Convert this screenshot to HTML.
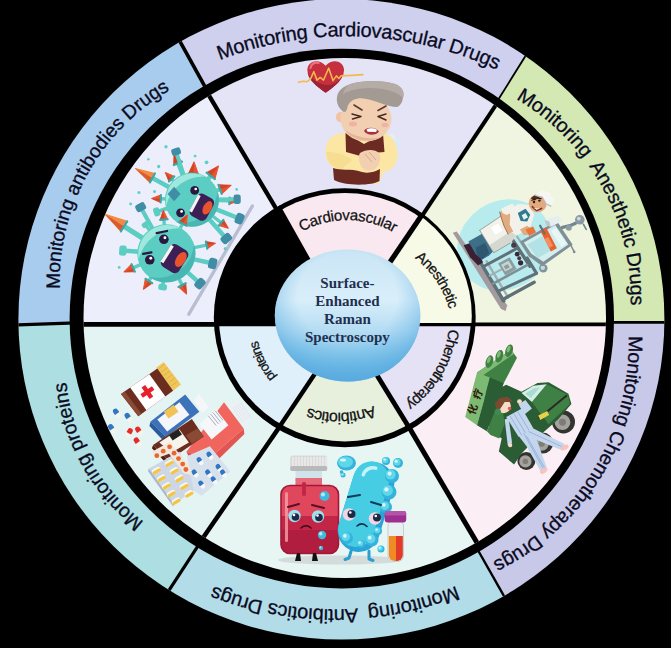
<!DOCTYPE html>
<html><head><meta charset="utf-8"><title>SERS drug monitoring</title>
<style>
html,body{margin:0;padding:0;background:#000;}
svg{display:block}
.o{font-family:"Liberation Sans",sans-serif;font-size:20px;fill:#0a0a1e;stroke:#0a0a1e;stroke-width:0.3px}
.i{font-family:"Liberation Sans",sans-serif;font-size:15px;fill:#111;stroke:#111;stroke-width:0.25px}
.c{font-family:"Liberation Serif",serif;font-weight:bold;font-size:15px;fill:#1f2f4f;text-anchor:middle}
</style></head><body>
<svg width="671" height="648" viewBox="0 0 671 648">
<defs>
<clipPath id="cOut"><ellipse cx="341.4" cy="319.25" rx="323.0" ry="320.25" /></clipPath>
<clipPath id="cMid"><ellipse cx="344.75" cy="317.95" rx="261.25" ry="260.05" /></clipPath>
<clipPath id="cIn"><ellipse cx="344.9" cy="317.2" rx="126.0" ry="124.3" /></clipPath>
<clipPath id="cMidIn"><ellipse cx="344.75" cy="317.75" rx="130.95" ry="129.55" /></clipPath>
<linearGradient id="gS" x1="0" y1="0" x2="0" y2="1">
<stop offset="0" stop-color="#c9e5f5"/><stop offset="0.38" stop-color="#d9eefa"/><stop offset="0.62" stop-color="#b4dcf3"/><stop offset="0.85" stop-color="#78c0e8"/><stop offset="1" stop-color="#55a9de"/>
</linearGradient>
<radialGradient id="gS2" cx="0.5" cy="0.36" r="0.62">
<stop offset="0" stop-color="#6ab8e6" stop-opacity="0"/><stop offset="0.55" stop-color="#6ab8e6" stop-opacity="0"/><stop offset="0.8" stop-color="#62b2e3" stop-opacity="0.4"/><stop offset="1" stop-color="#5aabdf" stop-opacity="0.8"/>
</radialGradient>
</defs>
<rect width="671" height="648" fill="#000"/>

<g clip-path="url(#cOut)">
<path d="M345.0,322.0 L82.0,322.7 L-62.0,327.4 L-250.8,250.8 L-236.2,172.9 L-211.4,97.6 L-177.0,26.2 L-133.4,-40.1 L-81.5,-100.0 L-22.2,-152.5 L142.1,-27.2 L209.8,95.3Z" fill="#a8ccee"/>
<path d="M345.0,322.0 L209.8,95.3 L142.1,-27.2 L118.6,-233.7 L198.0,-259.7 L280.3,-274.5 L363.8,-277.7 L446.9,-269.3 L528.1,-249.4 L605.7,-218.4 L567.4,-10.9 L492.6,108.7Z" fill="#ced0ee"/>
<path d="M345.0,322.0 L492.6,108.7 L567.4,-10.9 L736.9,-132.3 L789.6,-80.9 L835.6,-23.4 L874.2,39.3 L904.9,106.3 L927.1,176.5 L940.5,248.9 L744.0,322.3 L602.0,322.3Z" fill="#d4e8b4"/>
<path d="M345.0,322.0 L602.0,322.3 L744.0,322.3 L939.8,400.7 L924.5,477.6 L899.2,551.8 L864.6,622.1 L821.0,687.3 L769.3,746.2 L710.3,797.9 L542.6,664.0 L474.1,543.3Z" fill="#c8c8e8"/>
<path d="M345.0,322.0 L474.1,543.3 L542.6,664.0 L570.9,877.9 L492.3,903.6 L411.0,918.4 L328.4,921.8 L246.1,913.8 L165.6,894.6 L88.6,864.5 L127.0,655.1 L203.0,538.0Z" fill="#b2dce8"/>
<path d="M345.0,322.0 L203.0,538.0 L127.0,655.1 L-42.3,780.3 L-95.3,729.6 L-141.7,672.9 L-180.9,610.9 L-212.2,544.6 L-235.2,475.0 L-249.5,403.1 L-62.0,327.4 L82.0,322.7Z" fill="#acdee2"/>
<line x1="76.0" y1="322.9" x2="10.0" y2="325.1" stroke="#000" stroke-width="3.4"/>
<line x1="206.9" y1="90.1" x2="176.9" y2="35.8" stroke="#000" stroke-width="3.6"/>
<line x1="495.8" y1="103.6" x2="529.2" y2="50.1" stroke="#000" stroke-width="1.8"/>
<line x1="608.0" y1="322.3" x2="672.0" y2="322.3" stroke="#000" stroke-width="2.7"/>
<line x1="477.0" y1="548.5" x2="507.0" y2="601.4" stroke="#000" stroke-width="2.4"/>
<line x1="199.8" y1="543.1" x2="166.2" y2="594.7" stroke="#000" stroke-width="3.2"/>
</g>
<ellipse cx="341.8" cy="318.6" rx="272.2" ry="269.8" fill="#000"/>
<g clip-path="url(#cMid)">
<path d="M345.0,322.0 L226.0,324.4 L4.0,324.4 L-250.5,248.5 L-236.0,172.1 L-211.7,98.2 L-178.0,28.0 L-135.6,-37.2 L-85.1,-96.4 L-27.3,-148.5 L168.2,26.8 L280.6,216.3Z" fill="#eceffb"/>
<path d="M345.0,322.0 L280.6,216.3 L168.2,26.8 L113.1,-231.4 L194.3,-258.8 L278.6,-274.3 L364.2,-277.7 L449.4,-268.9 L532.5,-248.0 L611.7,-215.5 L539.8,39.4 L414.3,227.3Z" fill="#e4e4f6"/>
<path d="M345.0,322.0 L414.3,227.3 L539.8,39.4 L743.0,-127.0 L794.6,-75.3 L839.6,-17.7 L877.2,44.9 L906.9,111.6 L928.3,181.4 L941.1,253.3 L686.0,324.4 L463.0,324.4Z" fill="#eff5e1"/>
<path d="M345.0,322.0 L463.0,324.4 L686.0,324.4 L939.5,403.0 L924.3,478.4 L899.5,551.3 L865.6,620.3 L823.1,684.5 L772.8,742.7 L715.4,794.0 L516.9,610.7 L403.3,417.7Z" fill="#fbeef5"/>
<path d="M345.0,322.0 L403.3,417.7 L516.9,610.7 L576.7,875.4 L497.0,902.4 L414.2,918.0 L330.0,921.8 L246.2,913.8 L164.3,894.1 L86.0,863.2 L159.4,601.1 L285.5,418.1Z" fill="#e8f6f3"/>
<path d="M345.0,322.0 L285.5,418.1 L159.4,601.1 L-45.7,777.4 L-98.2,726.4 L-144.2,669.4 L-182.9,607.3 L-213.7,540.8 L-236.2,471.2 L-250.0,399.3 L4.0,324.4 L226.0,324.4Z" fill="#e4f4f3"/>
<line x1="220.0" y1="324.4" x2="76.0" y2="324.4" stroke="#000" stroke-width="4.8"/>
<line x1="277.6" y1="211.2" x2="204.9" y2="88.7" stroke="#000" stroke-width="4.3"/>
<line x1="417.7" y1="222.3" x2="499.8" y2="99.2" stroke="#000" stroke-width="4.0"/>
<line x1="469.0" y1="324.4" x2="614.0" y2="324.4" stroke="#000" stroke-width="3.6"/>
<line x1="406.4" y1="422.8" x2="480.4" y2="548.6" stroke="#000" stroke-width="5"/>
<line x1="282.1" y1="423.1" x2="200.3" y2="541.8" stroke="#000" stroke-width="4.5"/>
<g id="virus" transform="translate(1.5,3.8) translate(178,222) scale(1.04) translate(-178,-222)">
<line x1="248" y1="203" x2="187" y2="307" stroke="#b9bdd2" stroke-width="3.2" stroke-linecap="round"/>
<line x1="181.4" y1="174.6" x2="176.5" y2="162.0" stroke="#5ccdc2" stroke-width="3.7" stroke-linecap="round"/>
<path d="M180.5,160.4 L172.7,152.2 L172.5,163.6Z" fill="#e8532f" stroke="#e8532f" stroke-width="1" stroke-linejoin="round"/>
<path d="M176.5,162.0 L172.7,152.2 L172.5,163.6Z" fill="#bf3420" opacity="0.55"/>
<line x1="180.5" y1="160.4" x2="172.5" y2="163.6" stroke="#3aa9a6" stroke-width="2" stroke-linecap="round"/>
<line x1="182.5" y1="174.2" x2="175.5" y2="153.0" stroke="#5ccdc2" stroke-width="3.7" stroke-linecap="round"/>
<rect x="-1.0" y="-4.5" width="6.9" height="9.0" rx="2.2" fill="#3f8ea6" transform="translate(175.5,153.0) rotate(-108.2)"/>
<line x1="191.3" y1="173.0" x2="191.4" y2="172.0" stroke="#5ccdc2" stroke-width="4.0" stroke-linecap="round"/>
<path d="M196.1,172.3 L192.0,160.6 L186.7,171.7Z" fill="#e8532f" stroke="#e8532f" stroke-width="1" stroke-linejoin="round"/>
<path d="M191.4,172.0 L192.0,160.6 L186.7,171.7Z" fill="#bf3420" opacity="0.55"/>
<line x1="196.1" y1="172.3" x2="186.7" y2="171.7" stroke="#3aa9a6" stroke-width="2" stroke-linecap="round"/>
<line x1="204.8" y1="178.1" x2="208.0" y2="174.0" stroke="#5ccdc2" stroke-width="4.3" stroke-linecap="round"/>
<path d="M212.0,177.1 L215.5,164.4 L204.0,170.9Z" fill="#e8532f" stroke="#e8532f" stroke-width="1" stroke-linejoin="round"/>
<path d="M208.0,174.0 L215.5,164.4 L204.0,170.9Z" fill="#bf3420" opacity="0.55"/>
<line x1="212.0" y1="177.1" x2="204.0" y2="170.9" stroke="#3aa9a6" stroke-width="2" stroke-linecap="round"/>
<line x1="212.5" y1="188.7" x2="217.0" y2="187.0" stroke="#5ccdc2" stroke-width="4.0" stroke-linecap="round"/>
<path d="M218.6,191.4 L227.7,183.0 L215.4,182.6Z" fill="#e8532f" stroke="#e8532f" stroke-width="1" stroke-linejoin="round"/>
<path d="M217.0,187.0 L227.7,183.0 L215.4,182.6Z" fill="#bf3420" opacity="0.55"/>
<line x1="218.6" y1="191.4" x2="215.4" y2="182.6" stroke="#3aa9a6" stroke-width="2" stroke-linecap="round"/>
<line x1="214.0" y1="197.7" x2="226.0" y2="198.0" stroke="#5ccdc2" stroke-width="3.2" stroke-linecap="round"/>
<path d="M225.9,201.2 L233.9,198.2 L226.1,194.8Z" fill="#e8532f" stroke="#e8532f" stroke-width="1" stroke-linejoin="round"/>
<path d="M226.0,198.0 L233.9,198.2 L226.1,194.8Z" fill="#bf3420" opacity="0.55"/>
<line x1="225.9" y1="201.2" x2="226.1" y2="194.8" stroke="#3aa9a6" stroke-width="2" stroke-linecap="round"/>
<line x1="214.0" y1="196.7" x2="231.0" y2="196.5" stroke="#5ccdc2" stroke-width="3.7" stroke-linecap="round"/>
<rect x="-1.0" y="-4.5" width="6.9" height="9.0" rx="2.2" fill="#3f8ea6" transform="translate(231.0,196.5) rotate(-0.7)"/>
<line x1="212.3" y1="205.8" x2="233.0" y2="214.0" stroke="#5ccdc2" stroke-width="4.3" stroke-linecap="round"/>
<rect x="-1.0" y="-5.2" width="8.0" height="10.5" rx="2.6" fill="#3f8ea6" transform="translate(233.0,214.0) rotate(21.6)"/>
<line x1="205.9" y1="215.0" x2="221.0" y2="232.0" stroke="#5ccdc2" stroke-width="4.3" stroke-linecap="round"/>
<rect x="-1.0" y="-5.2" width="8.0" height="10.5" rx="2.6" fill="#3f8ea6" transform="translate(221.0,232.0) rotate(48.5)"/>
<line x1="208.9" y1="211.8" x2="218.0" y2="219.0" stroke="#5ccdc2" stroke-width="3.2" stroke-linecap="round"/>
<path d="M215.8,221.8 L224.9,224.4 L220.2,216.2Z" fill="#e8532f" stroke="#e8532f" stroke-width="1" stroke-linejoin="round"/>
<path d="M218.0,219.0 L224.9,224.4 L220.2,216.2Z" fill="#bf3420" opacity="0.55"/>
<line x1="215.8" y1="221.8" x2="220.2" y2="216.2" stroke="#3aa9a6" stroke-width="2" stroke-linecap="round"/>
<line x1="169.0" y1="185.4" x2="152.0" y2="176.0" stroke="#5ccdc2" stroke-width="4.3" stroke-linecap="round"/>
<path d="M154.4,171.6 L135.5,166.9 L149.6,180.4Z" fill="#f28a45" stroke="#f28a45" stroke-width="1" stroke-linejoin="round"/>
<path d="M152.0,176.0 L135.5,166.9 L149.6,180.4Z" fill="#bf3420" opacity="0.55"/>
<line x1="154.4" y1="171.6" x2="149.6" y2="180.4" stroke="#3aa9a6" stroke-width="2" stroke-linecap="round"/>
<line x1="173.2" y1="179.8" x2="170.5" y2="177.0" stroke="#5ccdc2" stroke-width="3.2" stroke-linecap="round"/>
<path d="M173.1,174.5 L164.4,170.7 L167.9,179.5Z" fill="#e8532f" stroke="#e8532f" stroke-width="1" stroke-linejoin="round"/>
<path d="M170.5,177.0 L164.4,170.7 L167.9,179.5Z" fill="#bf3420" opacity="0.55"/>
<line x1="173.1" y1="174.5" x2="167.9" y2="179.5" stroke="#3aa9a6" stroke-width="2" stroke-linecap="round"/>
<line x1="166.0" y1="196.2" x2="160.0" y2="196.0" stroke="#5ccdc2" stroke-width="3.2" stroke-linecap="round"/>
<path d="M160.1,192.4 L151.3,195.7 L159.9,199.6Z" fill="#e8532f" stroke="#e8532f" stroke-width="1" stroke-linejoin="round"/>
<path d="M160.0,196.0 L151.3,195.7 L159.9,199.6Z" fill="#bf3420" opacity="0.55"/>
<line x1="160.1" y1="192.4" x2="159.9" y2="199.6" stroke="#3aa9a6" stroke-width="2" stroke-linecap="round"/>
<line x1="167.3" y1="204.8" x2="158.0" y2="208.0" stroke="#5ccdc2" stroke-width="3.7" stroke-linecap="round"/>
<rect x="-1.0" y="-4.2" width="6.0" height="8.4" rx="2.1" fill="#5ccdc2" transform="translate(158.0,208.0) rotate(161.0)"/>
<circle cx="190" cy="197" r="26" fill="#5ccdc2"/>
<path d="M165.3,202.2 A26,26 0 0 1 203.0,174.6 A36.4,36.4 0 0 0 165.3,202.2Z" fill="#a6ebe0" opacity="0.9"/>
<path d="M214.7,189.2 A26,26 0 0 1 174.4,217.8 A32.5,32.5 0 0 0 214.7,189.2Z" fill="#3aa9a6" opacity="0.6"/>
<g transform="translate(199,205) rotate(-62)"><rect x="-11" y="-9" width="24" height="18" rx="5" fill="#3b1f55"/><ellipse cx="3" cy="5" rx="7" ry="4" fill="#e8532f"/><rect x="-8" y="-9" width="18" height="3" fill="#f4f4f4"/></g>
<circle cx="192.6" cy="188" r="4.2" fill="#2a1840"/><circle cx="193.6" cy="186.6" r="1.3" fill="#fff"/>
<circle cx="179" cy="209.5" r="4.2" fill="#2a1840"/><circle cx="180" cy="208.2" r="1.3" fill="#fff"/>
<path d="M172.8,184.5 L179,191.5 L172.8,198.5 L166.6,191.5Z" fill="#3f8ea6"/>
<line x1="143.5" y1="234.5" x2="124.7" y2="222.6" stroke="#5ccdc2" stroke-width="5.0" stroke-linecap="round"/>
<path d="M127.8,217.7 L106.5,211.0 L121.6,227.5Z" fill="#f28a45" stroke="#f28a45" stroke-width="1" stroke-linejoin="round"/>
<path d="M124.7,222.6 L106.5,211.0 L121.6,227.5Z" fill="#bf3420" opacity="0.55"/>
<line x1="127.8" y1="217.7" x2="121.6" y2="227.5" stroke="#3aa9a6" stroke-width="2" stroke-linecap="round"/>
<line x1="139.5" y1="246.9" x2="126.0" y2="246.0" stroke="#5ccdc2" stroke-width="4.3" stroke-linecap="round"/>
<rect x="-1.0" y="-4.9" width="7.0" height="9.8" rx="2.4" fill="#5ccdc2" transform="translate(126.0,246.0) rotate(-176.4)"/>
<line x1="141.6" y1="258.9" x2="133.5" y2="262.5" stroke="#5ccdc2" stroke-width="3.4" stroke-linecap="round"/>
<path d="M131.9,258.9 L124.7,266.4 L135.1,266.1Z" fill="#e8532f" stroke="#e8532f" stroke-width="1" stroke-linejoin="round"/>
<path d="M133.5,262.5 L124.7,266.4 L135.1,266.1Z" fill="#bf3420" opacity="0.55"/>
<line x1="131.9" y1="258.9" x2="135.1" y2="266.1" stroke="#3aa9a6" stroke-width="2" stroke-linecap="round"/>
<line x1="151.4" y1="270.4" x2="148.5" y2="275.0" stroke="#5ccdc2" stroke-width="3.4" stroke-linecap="round"/>
<path d="M145.2,272.9 L143.3,283.1 L151.8,277.1Z" fill="#e8532f" stroke="#e8532f" stroke-width="1" stroke-linejoin="round"/>
<path d="M148.5,275.0 L143.3,283.1 L151.8,277.1Z" fill="#bf3420" opacity="0.55"/>
<line x1="145.2" y1="272.9" x2="151.8" y2="277.1" stroke="#3aa9a6" stroke-width="2" stroke-linecap="round"/>
<line x1="162.5" y1="274.3" x2="162.0" y2="279.0" stroke="#5ccdc2" stroke-width="3.7" stroke-linecap="round"/>
<rect x="-1.0" y="-4.2" width="6.0" height="8.4" rx="2.1" fill="#5ccdc2" transform="translate(162.0,279.0) rotate(96.4)"/>
<line x1="176.9" y1="271.8" x2="180.5" y2="279.0" stroke="#5ccdc2" stroke-width="3.4" stroke-linecap="round"/>
<path d="M177.0,280.8 L184.8,287.6 L184.0,277.2Z" fill="#e8532f" stroke="#e8532f" stroke-width="1" stroke-linejoin="round"/>
<path d="M180.5,279.0 L184.8,287.6 L184.0,277.2Z" fill="#bf3420" opacity="0.55"/>
<line x1="177.0" y1="280.8" x2="184.0" y2="277.2" stroke="#3aa9a6" stroke-width="2" stroke-linecap="round"/>
<line x1="184.8" y1="265.9" x2="195.5" y2="275.5" stroke="#5ccdc2" stroke-width="4.3" stroke-linecap="round"/>
<rect x="-1.0" y="-5.2" width="8.0" height="10.5" rx="2.6" fill="#3f8ea6" transform="translate(195.5,275.5) rotate(41.9)"/>
<line x1="190.8" y1="254.0" x2="207.0" y2="257.5" stroke="#5ccdc2" stroke-width="4.3" stroke-linecap="round"/>
<rect x="-1.0" y="-5.2" width="8.0" height="10.5" rx="2.6" fill="#3f8ea6" transform="translate(207.0,257.5) rotate(12.2)"/>
<line x1="190.9" y1="243.2" x2="204.0" y2="240.5" stroke="#5ccdc2" stroke-width="3.2" stroke-linecap="round"/>
<path d="M204.7,244.0 L212.6,238.7 L203.3,237.0Z" fill="#e8532f" stroke="#e8532f" stroke-width="1" stroke-linejoin="round"/>
<path d="M204.0,240.5 L212.6,238.7 L203.3,237.0Z" fill="#bf3420" opacity="0.55"/>
<line x1="204.7" y1="244.0" x2="203.3" y2="237.0" stroke="#3aa9a6" stroke-width="2" stroke-linecap="round"/>
<line x1="163.5" y1="222.6" x2="163.0" y2="216.0" stroke="#5ccdc2" stroke-width="3.2" stroke-linecap="round"/>
<path d="M166.6,215.7 L162.4,207.3 L159.4,216.3Z" fill="#e8532f" stroke="#e8532f" stroke-width="1" stroke-linejoin="round"/>
<path d="M163.0,216.0 L162.4,207.3 L159.4,216.3Z" fill="#bf3420" opacity="0.55"/>
<line x1="166.6" y1="215.7" x2="159.4" y2="216.3" stroke="#3aa9a6" stroke-width="2" stroke-linecap="round"/>
<line x1="177.9" y1="225.7" x2="181.0" y2="220.0" stroke="#5ccdc2" stroke-width="3.4" stroke-linecap="round"/>
<path d="M184.5,221.9 L185.6,211.6 L177.5,218.1Z" fill="#e8532f" stroke="#e8532f" stroke-width="1" stroke-linejoin="round"/>
<path d="M181.0,220.0 L185.6,211.6 L177.5,218.1Z" fill="#bf3420" opacity="0.55"/>
<line x1="184.5" y1="221.9" x2="177.5" y2="218.1" stroke="#3aa9a6" stroke-width="2" stroke-linecap="round"/>
<line x1="152.7" y1="225.8" x2="142.0" y2="206.5" stroke="#5ccdc2" stroke-width="4.0" stroke-linecap="round"/>
<rect x="-1.0" y="-4.9" width="7.5" height="9.8" rx="2.4" fill="#3f8ea6" transform="translate(142.0,206.5) rotate(-119.1)"/>
<line x1="150.0" y1="227.5" x2="146.0" y2="222.0" stroke="#5ccdc2" stroke-width="3.2" stroke-linecap="round"/>
<rect x="-1.0" y="-3.5" width="5.0" height="7.0" rx="1.8" fill="#5ccdc2" transform="translate(146.0,222.0) rotate(-126.2)"/>
<circle cx="165.4" cy="248.5" r="28" fill="#5ccdc2"/>
<path d="M138.8,254.1 A28,28 0 0 1 179.4,224.4 A39.2,39.2 0 0 0 138.8,254.1Z" fill="#a6ebe0" opacity="0.9"/>
<path d="M192.0,240.1 A28,28 0 0 1 148.6,270.9 A35.0,35.0 0 0 0 192.0,240.1Z" fill="#3aa9a6" opacity="0.6"/>
<g transform="translate(173,254) rotate(-58)"><rect x="-12" y="-10" width="25" height="20" rx="5" fill="#3b1f55"/><ellipse cx="3" cy="5.5" rx="8" ry="4.5" fill="#e8532f"/><rect x="-9" y="-10" width="19" height="3.2" fill="#f4f4f4"/></g>
<circle cx="163" cy="235" r="4.6" fill="#2a1840"/><circle cx="164" cy="233.5" r="1.4" fill="#fff"/>
<circle cx="149.4" cy="254.7" r="4.6" fill="#2a1840"/><circle cx="150.4" cy="253.2" r="1.4" fill="#fff"/>
<path d="M156,229 L166,227" stroke="#2a1840" stroke-width="2.2" stroke-linecap="round"/><path d="M143,249 L151,247.5" stroke="#2a1840" stroke-width="2.2" stroke-linecap="round"/>
<circle cx="158" cy="165" r="1.6" fill="#62cfc4"/>
<circle cx="165" cy="146" r="1.6" fill="#62cfc4"/>
<circle cx="193" cy="155" r="1.4" fill="#62cfc4"/>
<circle cx="204" cy="161" r="1.8" fill="#62cfc4"/>
<circle cx="139" cy="190" r="1.5" fill="#62cfc4"/>
<circle cx="131" cy="201" r="1.4" fill="#62cfc4"/>
<circle cx="154" cy="189" r="1.5" fill="#62cfc4"/>
<circle cx="233" cy="187" r="1.3" fill="#62cfc4"/>
<circle cx="120" cy="262" r="1.4" fill="#62cfc4"/>
<circle cx="222" cy="244" r="1.5" fill="#62cfc4"/>
<circle cx="148" cy="158" r="1.2" fill="#62cfc4"/>
<circle cx="214" cy="222" r="1.2" fill="#62cfc4"/>
</g>
<g id="oldman">
<g transform="translate(0,-1.5) translate(0,62) scale(1,1.06) translate(0,-62)">
<path d="M325.6,92.5 C316,86 307,79 307.4,70.5 C307.8,62.5 318.5,59.5 325.6,67 C332.5,59.5 343.5,62.5 344,70.5 C344.4,79 335,86 325.6,92.5Z" fill="#c62f3d"/>
<path d="M325.6,92.5 C316,86 309,80.5 307.8,74 C314,82 322,86 330,85 C336,84 341,80 343.6,74 C342,81 334,87 325.6,92.5Z" fill="#9f2233"/>
<path d="M310.5,69 C311,65 315,63.2 318.5,64.2" stroke="#e9737d" stroke-width="2.2" fill="none" stroke-linecap="round"/>
<path d="M298.5,82.5 L303,81.5 L307,82 L310.5,79.5 L313.8,72.5 L317,80.5 L320.2,78 L323.5,80.5 L328.7,69.2 L333,81 L336.4,76.5 L339,79 L341,76.5 L352,76 L363,75.3" stroke="#f3b94d" stroke-width="1.5" fill="none" stroke-linejoin="round" stroke-linecap="round"/>
</g>
<g transform="translate(0,2)">
<circle cx="395.5" cy="142.5" r="7" fill="#dde9f8"/><circle cx="391" cy="136" r="4" fill="#e4eefa"/>
<path d="M344,131 C333,131 326,138 325.5,148 C325,159 330,166 340,168 L346,181 L378,182 L384,170 C394,168 398.5,160 397.5,150 C396.5,139 391,132 383,131Z" fill="#fbe7a3"/>
<path d="M326,150 C327,160 332,165.5 341,167.5 L352,158 C345,152 336,150 326,150Z" fill="#f3d88a" opacity="0.7"/>
<path d="M345.5,131 L364,142 L383,131.5 L384.5,150 L372,151 L364,155 L346,150Z" fill="#6b2a22"/>
<path d="M333,166 C340,169 350,166 362,170 C370,172 376,169 380,167 L379.5,179 C372,184 344,184 334,178Z" fill="#6b2a22"/>
<path d="M360,151 C366,147 375,147 379,151 C382,155 380,163 375,167 C370,170 363,169 361,164 C359,160 358,154 360,151Z" fill="#f3cfb2"/>
<path d="M365,152 L372,160 M369,150 L376,158" stroke="#d9a98a" stroke-width="1" fill="none"/>
<circle cx="341" cy="115" r="5.2" fill="#efc4a6"/>
<ellipse cx="366" cy="117" rx="25.5" ry="22.5" fill="#f3cfb2"/>
<path d="M345,128 C352,139 372,143 384,133 C378,138 360,138 345,128Z" fill="#e4b596"/>
<path d="M344,110 C339,107 336,101 337,95 C338,88 344,84 352,81.5 C364,78 383,78 395,82 C402,84.5 405,90 403,96 C402,101 400,104 397,105 C392,105 386,103 380,101 C372,98 364,95.5 358,96.5 C352,97.5 348.5,101 347.5,105 C347,108 346,110 344,110Z" fill="#a39b93"/>
<path d="M352,81.5 C364,78 383,78 395,82 C402,84.5 405,90 403,96 C398,90 385,86 370,86 C360,86 350,88 343,92 C344,87 347,83.5 352,81.5Z" fill="#b5ada5"/>
<path d="M352,112 L361,114.5 L352.5,117" stroke="#4a2a20" stroke-width="1.5" fill="none" stroke-linecap="round" stroke-linejoin="round"/>
<path d="M386,112 L378,114.5 L386,118" stroke="#4a2a20" stroke-width="1.5" fill="none" stroke-linecap="round" stroke-linejoin="round"/>
<path d="M354,103 L362,108 M386,104 L378,108.5" stroke="#5a3a30" stroke-width="1.6" stroke-linecap="round"/>
<path d="M364,129 C366,124.5 376,124.5 379,129.5 C376,134 367,134 364,129Z" fill="#a8323f"/>
<path d="M366.5,127.5 C369,125.8 375,125.8 377,128 L376,130 L367.5,129.8Z" fill="#fff"/>
<ellipse cx="353" cy="122" rx="4" ry="2.5" fill="#ef9f98" opacity="0.6"/><ellipse cx="385" cy="123" rx="3.5" ry="2.3" fill="#ef9f98" opacity="0.6"/>
</g>
</g>
<g id="doctor">
<ellipse cx="504.5" cy="245" rx="49" ry="44" fill="#b7ebee" transform="rotate(-35 504.5 245)"/>
<path d="M452.8,232.7 L456.8,231.5 L507.1,305.3 L505.7,310.9 L501.1,308.9Z" fill="#a39a9d" />
<path d="M510.2,236.1 L530.0,266.2" fill="none" stroke="#5f7178" stroke-width="3.4" stroke-linecap="round" stroke-linejoin="round" />
<path d="M516.2,235.1 L530.0,256.2" fill="none" stroke="#9fb0b4" stroke-width="2.2" stroke-linecap="round" stroke-linejoin="round" />
<path d="M481.1,263.6 L503.7,300.9" fill="none" stroke="#5f7178" stroke-width="3.6" stroke-linecap="round" stroke-linejoin="round" />
<path d="M486.5,261.2 L508.1,297.3" fill="none" stroke="#9fb0b4" stroke-width="2.4" stroke-linecap="round" stroke-linejoin="round" />
<path d="M483.1,266.8 L516.2,248.8" fill="none" stroke="#5f7178" stroke-width="3" stroke-linecap="round" stroke-linejoin="round" />
<path d="M502.5,299.7 L534.2,282.2" fill="none" stroke="#5f7178" stroke-width="3.4" stroke-linecap="round" stroke-linejoin="round" />
<path d="M493.1,283.6 L527.2,265.2" fill="none" stroke="#7d9096" stroke-width="2.6" stroke-linecap="round" stroke-linejoin="round" />
<path d="M489.7,275.6 L502.5,268.8" fill="none" stroke="#9fb0b4" stroke-width="2" stroke-linecap="round" stroke-linejoin="round" />
<path d="M536.5,273.3 L527.2,258.0" fill="none" stroke="#5f7178" stroke-width="3.2" stroke-linecap="round" stroke-linejoin="round" />
<path d="M500.0,290.3 L536.5,273.3" fill="none" stroke="#5f7178" stroke-width="3" stroke-linecap="round" stroke-linejoin="round" />
<path d="M498.1,263.6 L509.7,257.2 L516.6,268.8 L505.3,275.6Z" fill="#8c9da0" />
<path d="M501.1,264.8 L508.5,260.8 L512.6,267.6 L505.1,271.6Z" fill="#c6d4d3" />
<path d="M503.7,266.2 L507.7,264.0 L509.7,267.2 L505.7,269.4Z" fill="#8c9da0" />
<circle cx="520.6" cy="262.8" r="2.6" fill="#3a2838"/>
<circle cx="517.2" cy="254.2" r="2.4" fill="#3a2838"/>
<circle cx="519.2" cy="258.2" r="2.0" fill="#4a3848"/>
<circle cx="513.8" cy="245.2" r="2.6" fill="#4a3a48"/>
<circle cx="543.3" cy="268.2" r="4.2" fill="#7f959a"/>
<circle cx="542.8" cy="267.7" r="2.2" fill="#c5dada"/>
<path d="M520.0,241.4 L556.9,221.0 L572.7,244.8 L542.4,266.2 L528.9,256.3Z" fill="#7f9196" />
<path d="M523.8,242.4 L555.2,225.1 L568.3,244.4 L543.3,261.7 L531.4,253.8Z" fill="#d2eeee" />
<path d="M527.2,244.4 L542.4,235.9 L550.9,250.4 L537.7,258.3Z" fill="#b2e2e5" />
<path d="M550.9,230.8 L556.0,227.8 L566.6,243.6 L561.5,247.0Z" fill="#e9f6f6" />
<path d="M540.1,230.5 L546.2,227.4 L556.9,248.2 L550.9,251.6Z" fill="#e8622f" />
<path d="M544.5,239.0 L548.2,237.0 L553.0,245.8 L549.2,247.8Z" fill="#f29062" />
<path d="M544.5,219.8 L558.6,215.6 L562.5,221.0 L550.9,226.8 L546.2,225.4Z" fill="#e6eff0" />
<path d="M544.5,219.8 L546.2,225.4 L550.9,226.8 L549.2,221.5Z" fill="#b9c8cb" />
<path d="M540.1,225.7 L544.5,233.4" fill="none" stroke="#5f7178" stroke-width="2.2" stroke-linecap="round" stroke-linejoin="round" />
<path d="M562.5,227.4 L569.9,225.7 L575.6,223.2" fill="none" stroke="#75868e" stroke-width="3.4" stroke-linecap="round" stroke-linejoin="round" />
<circle cx="568.8" cy="227.8" r="3.0" fill="#8d9ca4"/>
<circle cx="579.8" cy="219.8" r="4.8" fill="#8a99a3"/>
<circle cx="578.8" cy="218.6" r="1.9" fill="#cdd8dd"/>
<path d="M583.5,224.4 L586.2,229.5" fill="none" stroke="#6f7f88" stroke-width="1.6" stroke-linecap="round" stroke-linejoin="round" />
<path d="M568.8,241.0 L574.0,251.6" fill="none" stroke="#7d8d95" stroke-width="1.5" stroke-linecap="round" stroke-linejoin="round" />
<circle cx="574.2" cy="251.9" r="1.3" fill="#7d8d95"/>
<path d="M463.6,245.2 L472.5,242.3 L483.1,262.2 L478.1,265.6 L470.1,257.2Z" fill="#3a2033" />
<path d="M468.4,241.5 L482.1,233.7 L493.7,250.8 L489.1,255.6 L482.1,259.6 L475.7,254.2Z" fill="#3d6f88" />
<path d="M475.7,247.6 L485.1,243.1 L489.3,253.2 L482.1,259.6 L477.1,255.2Z" fill="#2e5870" />
<path d="M479.7,230.3 L502.5,215.1 L510.2,208.7 L518.2,204.0 L530.0,205.1 L534.2,215.1 L530.0,228.1 L516.6,235.5 L510.2,243.1 L493.7,252.8Z" fill="#f2f1ea" />
<path d="M493.7,252.8 L510.2,243.1 L516.6,235.5 L510.2,231.5 L489.3,245.2Z" fill="#d5d8d0" />
<path d="M491.1,227.5 L498.1,223.5 L502.5,230.7 L495.3,234.7Z" fill="#ffffff" />
<path d="M479.7,230.3 L502.5,215.1 L510.2,208.7" fill="none" stroke="#8a8f8c" stroke-width="0.8" stroke-linecap="round" stroke-linejoin="round" />
<path d="M479.7,230.3 L493.7,252.8 L510.2,243.1" fill="none" stroke="#8a8f8c" stroke-width="0.8" stroke-linecap="round" stroke-linejoin="round" />
<path d="M517.8,213.0 L525.5,208.8 L530.2,214.7 L527.2,221.5 L520.7,221.0Z" fill="#2f7a90" />
<path d="M521.7,215.2 L525.5,213.0 L528.0,217.3 L523.8,219.8Z" fill="#e8f0ef" />
<path d="M499.7,212.1 L507.7,208.7 L510.2,215.1 L509.7,224.7 L513.2,231.5 L508.1,234.1 L504.1,226.1 L501.7,219.1Z" fill="#e2aa7f" />
<path d="M499.7,212.1 L501.7,219.1 L504.1,226.1 L508.1,234.1" fill="none" stroke="#8a5a3a" stroke-width="0.8" stroke-linecap="round" stroke-linejoin="round" />
<path d="M501.1,208.7 L512.6,203.4 L516.2,210.1 L506.5,215.1 L502.5,213.1Z" fill="#f2f1ea" />
<path d="M520.0,229.5 L527.2,225.7 L532.6,229.5 L530.6,234.2 L523.8,235.3Z" fill="#e2aa7f" />
<path d="M525.5,229.5 L533.1,226.6 L536.0,232.2 L529.2,235.9Z" fill="#e9743a" />
<circle cx="537.7" cy="203.3" r="9.0" fill="#e2aa7f"/>
<path d="M530.6,198.2 L535.3,194.8 L540.7,196.2 L534.8,200.6Z" fill="#4a2a1e" />
<path d="M535.0,195.5 L540.7,189.8 L549.6,192.5 L554.3,200.6 L550.9,206.1 L546.2,204.0 L542.4,197.2Z" fill="#f6f6f2" />
<path d="M535.0,195.5 L542.4,197.2 L546.2,204.0 L550.9,206.1" fill="none" stroke="#b8bdb9" stroke-width="1.2" stroke-linecap="round" stroke-linejoin="round" />
<path d="M532.3,206.7 L536.5,210.5 L541.6,208.4" fill="none" stroke="#7a3020" stroke-width="1.6" stroke-linecap="round" stroke-linejoin="round" />
<path d="M533.3,207.4 L536.5,209.8 L540.4,208.4 L536.5,208.4Z" fill="#ffffff" />
<circle cx="534.0" cy="202.0" r="1.2" fill="#2a1810"/>
<circle cx="539.4" cy="200.6" r="1.2" fill="#2a1810"/>
<path d="M531.9,200.3 L534.8,199.3" fill="none" stroke="#2a1810" stroke-width="1.2" stroke-linecap="round" stroke-linejoin="round" />
<path d="M537.7,198.2 L541.1,198.6" fill="none" stroke="#2a1810" stroke-width="1.2" stroke-linecap="round" stroke-linejoin="round" />
</g>
<g id="truck">
<circle cx="563.5" cy="421.9" r="11.5" fill="#33332f"/>
<circle cx="562.5" cy="422.3" r="7.82" fill="#a3a29c"/>
<circle cx="562.5" cy="422.3" r="3.4499999999999997" fill="#7d7c77"/>
<circle cx="542.7" cy="443.1" r="10.5" fill="#33332f"/>
<circle cx="541.7" cy="443.6" r="7.140000000000001" fill="#a3a29c"/>
<circle cx="541.7" cy="443.6" r="3.15" fill="#7d7c77"/>
<circle cx="526.4" cy="460.9" r="9" fill="#33332f"/>
<circle cx="525.4" cy="461.4" r="6.12" fill="#a3a29c"/>
<circle cx="525.4" cy="461.4" r="2.6999999999999997" fill="#7d7c77"/>
<path d="M484.4,396.2 L506.2,384.8 L521.5,391.7 L537.5,383.1 L548.6,382.3 L568.4,393.7 L571.4,404.1 L558.0,419.4 L536.3,438.6 L521.5,453.5 L514.1,464.6 L498.8,451.5 L501.7,438.6 L489.4,429.3Z" fill="#2a5d34" />
<path d="M531.9,402.1 L546.7,384.3 L567.9,394.7 L569.9,404.1 L548.6,424.3Z" fill="#3f8044" />
<path d="M521.5,393.0 L533.3,385.8 L546.7,384.3 L531.9,402.1Z" fill="#d6efe6" />
<path d="M525.2,393.7 L533.8,388.3 L540.0,387.3 L530.9,397.9Z" fill="#a9dcd4" />
<path d="M539.3,417.9 L566.4,395.7" fill="none" stroke="#2a2a20" stroke-width="2" stroke-linecap="round" stroke-linejoin="round" />
<path d="M538.3,415.4 L547.2,411.0 L549.1,414.9 L540.2,419.9Z" fill="#e9d24a" />
<path d="M477.0,372.5 L511.1,349.8 L517.0,357.7 L503.7,383.3 L484.4,394.7Z" fill="#3f8044" />
<path d="M477.0,372.5 L511.1,349.8 L514.1,353.7 L480.7,376.9Z" fill="#7dba72" />
<path d="M465.2,416.9 L477.0,372.5 L489.9,377.4 L483.5,402.1 L477.0,425.3Z" fill="#7dba72" />
<path d="M477.0,425.3 L483.5,402.1 L489.9,377.4 L503.7,383.3 L494.8,411.5 L486.9,431.2Z" fill="#2a5d34" />
<path d="M486.9,431.2 L494.8,411.5 L501.7,404.1 L504.7,423.8 L499.3,438.6 L490.6,434.9Z" fill="#3f8044" />
<ellipse cx="489.4" cy="361.6" rx="3.6" ry="6.5" fill="#3f8044" transform="rotate(18 489.4 361.6)"/>
<ellipse cx="488.4" cy="360.1" rx="1.6" ry="3.5" fill="#7dba72" transform="rotate(18 489.4 361.6)"/>
<ellipse cx="499.3" cy="356.2" rx="3.6" ry="6.5" fill="#3f8044" transform="rotate(18 499.3 356.2)"/>
<ellipse cx="498.3" cy="354.7" rx="1.6" ry="3.5" fill="#7dba72" transform="rotate(18 499.3 356.2)"/>
<ellipse cx="509.1" cy="350.7" rx="3.6" ry="6.5" fill="#3f8044" transform="rotate(18 509.1 350.7)"/>
<ellipse cx="508.1" cy="349.3" rx="1.6" ry="3.5" fill="#7dba72" transform="rotate(18 509.1 350.7)"/>
<text transform="translate(474.6,415.6) rotate(-71.5)" style="font-family:'Liberation Sans','Noto Sans CJK SC',sans-serif;font-size:10.5px;font-weight:bold" fill="#33160c" textLength="27" lengthAdjust="spacing">化疗</text>
<path d="M518.5,435.7 L531.9,427.8 L564.7,444.1 L562.5,450.5 L536.8,440.1 L546.7,467.3 L541.2,472.2 L526.4,446.0Z" fill="#c3d6ee" />
<path d="M506.2,416.9 L522.0,408.5 L533.3,428.3 L518.5,436.7Z" fill="#c3d6ee" />
<path d="M518.5,404.6 L525.4,400.1 L531.9,408.5 L524.4,414.4Z" fill="#c3d6ee" />
<path d="M504.7,419.4 L508.6,417.9 L512.1,443.1 L507.7,445.1Z" fill="#c3d6ee" />
<path d="M510.4,416.4 L521.5,434.9" fill="none" stroke="#8eabd2" stroke-width="0.8" stroke-linecap="round" stroke-linejoin="round" />
<path d="M514.1,414.0 L525.2,432.5" fill="none" stroke="#8eabd2" stroke-width="0.8" stroke-linecap="round" stroke-linejoin="round" />
<path d="M518.0,412.0 L528.9,430.0" fill="none" stroke="#8eabd2" stroke-width="0.8" stroke-linecap="round" stroke-linejoin="round" />
<path d="M524.0,433.7 L543.7,469.5" fill="none" stroke="#8eabd2" stroke-width="0.8" stroke-linecap="round" stroke-linejoin="round" />
<path d="M528.9,431.7 L563.5,447.3" fill="none" stroke="#8eabd2" stroke-width="0.8" stroke-linecap="round" stroke-linejoin="round" />
<path d="M526.9,436.7 L544.9,468.3" fill="none" stroke="#8eabd2" stroke-width="0.8" stroke-linecap="round" stroke-linejoin="round" />
<ellipse cx="564.7" cy="447.5" rx="4.2" ry="2.4" fill="#f6c4bd" transform="rotate(-25 564.7 447.5)"/>
<ellipse cx="543.7" cy="470.7" rx="4.2" ry="2.4" fill="#f6c4bd" transform="rotate(-35 543.7 470.7)"/>
<circle cx="510.1" cy="445.1" r="2.2" fill="#f8dcc8"/>
<circle cx="519.5" cy="401.6" r="2.4" fill="#f8dcc8"/>
<circle cx="503.7" cy="406.0" r="7.2" fill="#f8dcc8"/>
<path d="M494.8,404.1 L499.3,398.1 L507.9,396.7 L513.1,402.1 L504.7,402.1 L500.5,408.5 L497.3,411.5Z" fill="#7b4a30" />
<circle cx="497.8" cy="412.0" r="3.2" fill="#3f8a50"/>
<circle cx="509.6" cy="408.5" r="1.8" fill="#e45060"/>
</g>
<g id="antib">
<ellipse cx="340" cy="560" rx="62" ry="4.5" fill="#cfd6d6" opacity="0.85"/>
<rect x="290.2" y="455.5" width="37" height="15.5" rx="2.5" fill="#d9d9d9"/>
<rect x="290.2" y="466" width="37" height="5" rx="2" fill="#b9b9b9"/>
<line x1="293" y1="457" x2="293" y2="466" stroke="#f4f4f4" stroke-width="1.1"/>
<line x1="296" y1="457" x2="296" y2="466" stroke="#f4f4f4" stroke-width="1.1"/>
<line x1="299" y1="457" x2="299" y2="466" stroke="#f4f4f4" stroke-width="1.1"/>
<line x1="302" y1="457" x2="302" y2="466" stroke="#f4f4f4" stroke-width="1.1"/>
<line x1="305" y1="457" x2="305" y2="466" stroke="#f4f4f4" stroke-width="1.1"/>
<line x1="308" y1="457" x2="308" y2="466" stroke="#f4f4f4" stroke-width="1.1"/>
<line x1="311" y1="457" x2="311" y2="466" stroke="#f4f4f4" stroke-width="1.1"/>
<line x1="314" y1="457" x2="314" y2="466" stroke="#f4f4f4" stroke-width="1.1"/>
<line x1="317" y1="457" x2="317" y2="466" stroke="#f4f4f4" stroke-width="1.1"/>
<line x1="320" y1="457" x2="320" y2="466" stroke="#f4f4f4" stroke-width="1.1"/>
<line x1="323" y1="457" x2="323" y2="466" stroke="#f4f4f4" stroke-width="1.1"/>
<line x1="326" y1="457" x2="326" y2="466" stroke="#f4f4f4" stroke-width="1.1"/>
<rect x="295.5" y="471" width="26.5" height="17" fill="#cfe4ea"/>
<rect x="295.5" y="478" width="26.5" height="10" fill="#e66a7a"/>
<rect x="281" y="485.5" width="57.5" height="68" rx="9" fill="#e0465c"/>
<path d="M281,516 L338.5,516 L338.5,544.5 a9,9 0 0 1 -9,9 L290,553.5 a9,9 0 0 1 -9,-9Z" fill="#c22545"/>
<path d="M281,530 L338.5,530 L338.5,544.5 a9,9 0 0 1 -9,9 L290,553.5 a9,9 0 0 1 -9,-9Z" fill="#b01d3e"/>
<rect x="281" y="485.5" width="57.5" height="68" rx="9" fill="none" stroke="#a3183a" stroke-width="1.6"/>
<rect x="285" y="492" width="3" height="50" rx="1.5" fill="#f4a0aa" opacity="0.8"/>
<rect x="302" y="482" width="4" height="14" rx="2" fill="#c22545"/>
<circle cx="294.5" cy="516" r="6.2" fill="#9fe0ee"/><circle cx="295.5" cy="517" r="3.8" fill="#1d2a44"/><circle cx="294" cy="515" r="1.3" fill="#fff"/>
<circle cx="318" cy="516.5" r="6.2" fill="#9fe0ee"/><circle cx="319" cy="517.5" r="3.8" fill="#1d2a44"/><circle cx="317.5" cy="515.5" r="1.3" fill="#fff"/>
<path d="M288,507 L299,504 M312,505 L324,508" stroke="#5a1020" stroke-width="2" stroke-linecap="round"/>
<path d="M301,528 Q306,523.5 311,528" stroke="#3a0a18" stroke-width="1.6" fill="none" stroke-linecap="round"/>
<circle cx="324.5" cy="496" r="5" fill="#3fb9dd"/><circle cx="323.0" cy="494.5" r="2.0" fill="#b6ecf8"/>
<circle cx="322" cy="535" r="4.2" fill="#3fb9dd"/><circle cx="320.7" cy="533.7" r="1.7" fill="#b6ecf8"/>
<circle cx="321" cy="548" r="2.2" fill="#3fb9dd"/><circle cx="320.3" cy="547.3" r="0.9" fill="#b6ecf8"/>
<path d="M297,553 L295,561 L301,561 L300,553Z M313,553 L312,561 L318,561 L316,553Z" fill="#111"/>
<g transform="translate(366,507) rotate(17)">
<rect x="-21" y="-46" width="42" height="92" rx="21" fill="#2aa3d6"/>
<rect x="-21" y="-46" width="36" height="88" rx="18" fill="#46cde4"/>
<path d="M-12,-30 a10,10 0 0 1 10,-10" stroke="#c4f3f8" stroke-width="3.5" fill="none" stroke-linecap="round"/>
</g>
<circle cx="392" cy="476" r="7" fill="#34b4dc"/><circle cx="390.6" cy="474.6" r="5.0" fill="#5fd6ea"/><circle cx="389.6" cy="473.6" r="2.1" fill="#d6f7fb"/>
<circle cx="389" cy="492" r="7.5" fill="#34b4dc"/><circle cx="387.5" cy="490.5" r="5.4" fill="#5fd6ea"/><circle cx="386.4" cy="489.4" r="2.2" fill="#d6f7fb"/>
<circle cx="386" cy="507" r="6" fill="#34b4dc"/><circle cx="384.8" cy="505.8" r="4.3" fill="#5fd6ea"/><circle cx="383.9" cy="504.9" r="1.8" fill="#d6f7fb"/>
<circle cx="372" cy="540" r="6.5" fill="#34b4dc"/><circle cx="370.7" cy="538.7" r="4.7" fill="#5fd6ea"/><circle cx="369.7" cy="537.7" r="1.9" fill="#d6f7fb"/>
<circle cx="361" cy="544" r="4" fill="#34b4dc"/><circle cx="360.2" cy="543.2" r="2.9" fill="#5fd6ea"/><circle cx="359.6" cy="542.6" r="1.2" fill="#d6f7fb"/>
<circle cx="347" cy="538" r="6" fill="#34b4dc"/><circle cx="345.8" cy="536.8" r="4.3" fill="#5fd6ea"/><circle cx="344.9" cy="535.9" r="1.8" fill="#d6f7fb"/>
<circle cx="381" cy="549" r="3.5" fill="#34b4dc"/><circle cx="380.3" cy="548.3" r="2.5" fill="#5fd6ea"/><circle cx="379.8" cy="547.8" r="1.1" fill="#d6f7fb"/>
<circle cx="386" cy="461" r="4" fill="#34b4dc"/><circle cx="385.2" cy="460.2" r="2.9" fill="#5fd6ea"/><circle cx="384.6" cy="459.6" r="1.2" fill="#d6f7fb"/>
<circle cx="398" cy="463" r="5" fill="#34b4dc"/><circle cx="397.0" cy="462.0" r="3.6" fill="#5fd6ea"/><circle cx="396.2" cy="461.2" r="1.5" fill="#d6f7fb"/>
<circle cx="343" cy="475" r="2.5" fill="#34b4dc"/><circle cx="342.5" cy="474.5" r="1.8" fill="#5fd6ea"/><circle cx="342.1" cy="474.1" r="0.8" fill="#d6f7fb"/>
<circle cx="378" cy="531" r="4" fill="#34b4dc"/><circle cx="377.2" cy="530.2" r="2.9" fill="#5fd6ea"/><circle cx="376.6" cy="529.6" r="1.2" fill="#d6f7fb"/>
<ellipse cx="346.5" cy="463" rx="9.5" ry="7.5" fill="#34b4dc"/><ellipse cx="345.5" cy="462" rx="7.5" ry="5.5" fill="#5fd6ea"/><ellipse cx="343" cy="460" rx="3" ry="1.6" fill="#d6f7fb"/>
<circle cx="341.5" cy="472" r="1.8" fill="#34b4dc"/>
<circle cx="349" cy="514.5" r="6.2" fill="#f3d4e4"/><circle cx="351.5" cy="514" r="4" fill="#1d2a44"/><circle cx="350.3" cy="512.5" r="1.3" fill="#fff"/>
<circle cx="375" cy="518.5" r="6.2" fill="#f3d4e4"/><circle cx="377" cy="517.5" r="4" fill="#1d2a44"/><circle cx="375.8" cy="516" r="1.3" fill="#fff"/>
<path d="M348,497 L360,495 M371,502 L381,505" stroke="#123a5a" stroke-width="2" stroke-linecap="round"/>
<path d="M357,526 Q362,521.5 367,526.5" stroke="#0f2d4a" stroke-width="1.6" fill="none" stroke-linecap="round"/>
<path d="M352,548 L349,558 L345,559.5 M369,551 L369,559 L373,560.5" stroke="#2a9fd2" stroke-width="3" fill="none" stroke-linecap="round" stroke-linejoin="round"/>
<rect x="388" y="520" width="15.5" height="41.5" rx="6" fill="#e9f0f2" stroke="#c4cdd2" stroke-width="1"/>
<path d="M388.8,536 L402.7,536 L402.7,555 a6,6 0 0 1 -6,6 L394.8,561 a6,6 0 0 1 -6,-6Z" fill="#f08a22"/>
<path d="M396,536 L402.7,536 L402.7,555 a6,6 0 0 1 -6,6 L396,561Z" fill="#e23a2a"/>
<rect x="384.7" y="511" width="21.5" height="11.5" rx="3" fill="#9c2f8f"/>
<rect x="384.7" y="511" width="21.5" height="4.5" rx="2.2" fill="#b553a8"/>
</g>
<g id="pills">
<path d="M193.8,400.6 L199.3,394.0 L208.6,407.3 L202.5,413.0Z" fill="#f4f6fa" />
<path d="M228.4,407.3 L238.3,400.6 L251.1,419.1 L244.4,424.1Z" fill="#eef1f6" />
<path d="M232.1,407.3 L243.2,422.1" fill="none" stroke="#d5dbe6" stroke-width="0.6" stroke-linecap="round" stroke-linejoin="round" />
<path d="M234.1,406.0 L245.2,420.9" fill="none" stroke="#d5dbe6" stroke-width="0.6" stroke-linecap="round" stroke-linejoin="round" />
<path d="M236.0,404.8 L247.2,419.6" fill="none" stroke="#d5dbe6" stroke-width="0.6" stroke-linecap="round" stroke-linejoin="round" />
<path d="M238.0,403.6 L249.1,418.4" fill="none" stroke="#d5dbe6" stroke-width="0.6" stroke-linecap="round" stroke-linejoin="round" />
<path d="M240.0,402.3 L251.1,417.2" fill="none" stroke="#d5dbe6" stroke-width="0.6" stroke-linecap="round" stroke-linejoin="round" />
<path d="M156.3,367.8 L163.7,361.9 L181.0,384.6 L173.1,390.7Z" fill="#f0c65a" />
<path d="M159.3,368.5 L164.7,364.3" fill="none" stroke="#d9a93c" stroke-width="0.7" stroke-linecap="round" stroke-linejoin="round" />
<path d="M161.7,372.0 L167.2,367.8" fill="none" stroke="#d9a93c" stroke-width="0.7" stroke-linecap="round" stroke-linejoin="round" />
<path d="M164.2,375.4 L169.6,371.2" fill="none" stroke="#d9a93c" stroke-width="0.7" stroke-linecap="round" stroke-linejoin="round" />
<path d="M166.7,378.9 L172.1,374.7" fill="none" stroke="#d9a93c" stroke-width="0.7" stroke-linecap="round" stroke-linejoin="round" />
<path d="M169.1,382.3 L174.6,378.1" fill="none" stroke="#d9a93c" stroke-width="0.7" stroke-linecap="round" stroke-linejoin="round" />
<path d="M171.6,385.8 L177.0,381.6" fill="none" stroke="#d9a93c" stroke-width="0.7" stroke-linecap="round" stroke-linejoin="round" />
<path d="M121.0,394.0 L157.3,368.5 L173.1,390.7 L138.3,416.2Z" fill="#6b2d1d" />
<path d="M130.1,387.5 L149.4,374.2 L165.4,396.4 L146.4,410.2Z" fill="#ffffff" />
<path d="M121.0,394.0 L124.7,391.5 L141.5,413.7 L138.3,416.2Z" fill="#8a4a36" />
<g transform="translate(147.4,392.0) rotate(-35)"><rect x="-7" y="-2.2" width="14" height="4.4" fill="#e8202a"/><rect x="-2.2" y="-7" width="4.4" height="14" fill="#e8202a"/></g>
<path d="M186.4,451.7 L224.0,402.3 L243.7,428.5 L208.6,459.1Z" fill="#f0665f" />
<path d="M186.4,451.7 L208.6,459.1 L211.6,466.0 L189.4,458.1Z" fill="#d94c48" />
<path d="M208.6,459.1 L243.7,428.5 L244.4,434.0 L211.6,466.0Z" fill="#e25550" />
<path d="M199.3,424.1 L216.0,409.3 L228.4,425.3 L211.6,439.4Z" fill="#f6f7fa" />
<path d="M208.6,416.2 L216.0,425.3" fill="none" stroke="#8a8f9c" stroke-width="0.7" stroke-linecap="round" stroke-linejoin="round" />
<path d="M210.9,414.4 L218.3,423.6" fill="none" stroke="#8a8f9c" stroke-width="0.7" stroke-linecap="round" stroke-linejoin="round" />
<path d="M213.1,412.7 L220.5,421.9" fill="none" stroke="#8a8f9c" stroke-width="0.7" stroke-linecap="round" stroke-linejoin="round" />
<path d="M215.3,411.0 L222.7,420.1" fill="none" stroke="#8a8f9c" stroke-width="0.7" stroke-linecap="round" stroke-linejoin="round" />
<path d="M150.6,421.6 L185.2,394.4 L199.3,411.7 L166.2,436.9Z" fill="#3b72ba" />
<path d="M157.3,419.6 L179.5,402.3 L189.4,414.7 L167.2,431.5Z" fill="#f4f6fb" />
<path d="M163.7,411.7 L173.6,404.8 L178.5,411.7 L168.6,418.6Z" fill="#f2c254" />
<path d="M150.6,421.6 L166.2,436.9 L164.7,441.9 L149.4,426.0Z" fill="#2b5a9c" />
<path d="M153.1,445.1 L191.9,419.1 L203.7,436.4 L181.5,451.7 L166.2,458.6Z" fill="#6b2d1d" />
<path d="M159.3,442.6 L179.5,429.5 L188.9,442.6 L171.6,452.5Z" fill="#f7f3ea" />
<path d="M169.1,435.2 L178.5,429.5 L182.0,434.4 L172.6,440.4Z" fill="#222" />
<path d="M185.9,435.2 L197.5,428.5 L203.7,436.4 L191.9,443.8Z" fill="#8a4a36" />
<path d="M153.1,445.1 L166.2,458.6 L164.7,461.6 L151.9,448.3Z" fill="#4f1f12" />
<path d="M148.9,468.5 L179.5,451.7 L196.8,488.3 L174.1,504.3Z" fill="#ccd6e6" />
<path d="M148.9,468.5 L174.1,504.3 L173.1,506.5 L147.9,471.0Z" fill="#aab6cc" />
<g transform="translate(156.3,470.5) rotate(-30)"><rect x="-4.6" y="-2.6" width="9.2" height="5.2" rx="2.4" fill="#f7f7f2"/><rect x="-4.6" y="-0.6" width="9.2" height="3.2" rx="1.6" fill="#f2c640"/></g>
<g transform="translate(169.1,463.1) rotate(-30)"><rect x="-4.6" y="-2.6" width="9.2" height="5.2" rx="2.4" fill="#f7f7f2"/><rect x="-4.6" y="-0.6" width="9.2" height="3.2" rx="1.6" fill="#f2c640"/></g>
<g transform="translate(161.2,478.1) rotate(-30)"><rect x="-4.6" y="-2.6" width="9.2" height="5.2" rx="2.4" fill="#f7f7f2"/><rect x="-4.6" y="-0.6" width="9.2" height="3.2" rx="1.6" fill="#f2c640"/></g>
<g transform="translate(174.1,470.7) rotate(-30)"><rect x="-4.6" y="-2.6" width="9.2" height="5.2" rx="2.4" fill="#f7f7f2"/><rect x="-4.6" y="-0.6" width="9.2" height="3.2" rx="1.6" fill="#f2c640"/></g>
<g transform="translate(166.2,485.8) rotate(-30)"><rect x="-4.6" y="-2.6" width="9.2" height="5.2" rx="2.4" fill="#f7f7f2"/><rect x="-4.6" y="-0.6" width="9.2" height="3.2" rx="1.6" fill="#f2c640"/></g>
<g transform="translate(179.0,478.4) rotate(-30)"><rect x="-4.6" y="-2.6" width="9.2" height="5.2" rx="2.4" fill="#f7f7f2"/><rect x="-4.6" y="-0.6" width="9.2" height="3.2" rx="1.6" fill="#f2c640"/></g>
<g transform="translate(171.1,493.5) rotate(-30)"><rect x="-4.6" y="-2.6" width="9.2" height="5.2" rx="2.4" fill="#f7f7f2"/><rect x="-4.6" y="-0.6" width="9.2" height="3.2" rx="1.6" fill="#f2c640"/></g>
<g transform="translate(184.0,486.0) rotate(-30)"><rect x="-4.6" y="-2.6" width="9.2" height="5.2" rx="2.4" fill="#f7f7f2"/><rect x="-4.6" y="-0.6" width="9.2" height="3.2" rx="1.6" fill="#f2c640"/></g>
<g transform="translate(176.0,501.1) rotate(-30)"><rect x="-4.6" y="-2.6" width="9.2" height="5.2" rx="2.4" fill="#f7f7f2"/><rect x="-4.6" y="-0.6" width="9.2" height="3.2" rx="1.6" fill="#f2c640"/></g>
<g transform="translate(188.9,493.7) rotate(-30)"><rect x="-4.6" y="-2.6" width="9.2" height="5.2" rx="2.4" fill="#f7f7f2"/><rect x="-4.6" y="-0.6" width="9.2" height="3.2" rx="1.6" fill="#f2c640"/></g>
<path d="M186.9,456.2 L209.9,446.3 L230.4,471.5 L201.7,495.7 L193.8,490.7Z" fill="#d7e1ec" />
<g transform="translate(200.0,461.1) rotate(55)"><rect x="-4.4" y="-2.4" width="8.8" height="4.8" rx="2.4" fill="#f7f7f5"/><path d="M0.4,-2.4 L-2,-2.4 a2.4,2.4 0 0 0 0,4.8 L0.4,2.4Z" fill="#2f77c4"/></g>
<g transform="translate(209.9,455.7) rotate(55)"><rect x="-4.4" y="-2.4" width="8.8" height="4.8" rx="2.4" fill="#f7f7f5"/><path d="M0.4,-2.4 L-2,-2.4 a2.4,2.4 0 0 0 0,4.8 L0.4,2.4Z" fill="#2f77c4"/></g>
<g transform="translate(208.6,473.5) rotate(55)"><rect x="-4.4" y="-2.4" width="8.8" height="4.8" rx="2.4" fill="#f7f7f5"/><path d="M0.4,-2.4 L-2,-2.4 a2.4,2.4 0 0 0 0,4.8 L0.4,2.4Z" fill="#2f77c4"/></g>
<g transform="translate(219.0,468.0) rotate(55)"><rect x="-4.4" y="-2.4" width="8.8" height="4.8" rx="2.4" fill="#f7f7f5"/><path d="M0.4,-2.4 L-2,-2.4 a2.4,2.4 0 0 0 0,4.8 L0.4,2.4Z" fill="#2f77c4"/></g>
<g transform="translate(201.7,484.6) rotate(55)"><rect x="-4.4" y="-2.4" width="8.8" height="4.8" rx="2.4" fill="#f7f7f5"/><path d="M0.4,-2.4 L-2,-2.4 a2.4,2.4 0 0 0 0,4.8 L0.4,2.4Z" fill="#2f77c4"/></g>
<g transform="translate(214.1,480.4) rotate(55)"><rect x="-4.4" y="-2.4" width="8.8" height="4.8" rx="2.4" fill="#f7f7f5"/><path d="M0.4,-2.4 L-2,-2.4 a2.4,2.4 0 0 0 0,4.8 L0.4,2.4Z" fill="#2f77c4"/></g>
<g transform="translate(223.5,473.5) rotate(55)"><rect x="-4.4" y="-2.4" width="8.8" height="4.8" rx="2.4" fill="#f7f7f5"/><path d="M0.4,-2.4 L-2,-2.4 a2.4,2.4 0 0 0 0,4.8 L0.4,2.4Z" fill="#2f77c4"/></g>
<g transform="translate(195.1,473.5) rotate(55)"><rect x="-4.4" y="-2.4" width="8.8" height="4.8" rx="2.4" fill="#f7f7f5"/><path d="M0.4,-2.4 L-2,-2.4 a2.4,2.4 0 0 0 0,4.8 L0.4,2.4Z" fill="#2f77c4"/></g>
<path d="M151.9,451.7 L169.6,441.9 L189.4,466.0 L191.9,474.7 L184.0,473.5 L169.1,453.7 L156.3,458.6Z" fill="#f3e6dc" />
<circle cx="156.8" cy="455.7" r="2.4" fill="#e8662f"/>
<circle cx="163.2" cy="451.2" r="2.4" fill="#e8662f"/>
<circle cx="169.6" cy="446.8" r="2.4" fill="#e8662f"/>
<circle cx="174.1" cy="453.2" r="2.4" fill="#e8662f"/>
<circle cx="178.5" cy="458.6" r="2.4" fill="#e8662f"/>
<circle cx="182.7" cy="464.1" r="2.4" fill="#e8662f"/>
<circle cx="185.9" cy="469.5" r="2.4" fill="#e8662f"/>
<g transform="translate(116.8,413.0) rotate(55)"><rect x="-4.8" y="-2.6" width="9.6" height="5.2" rx="2.6" fill="#f7f4ea"/><path d="M0.6,-2.6 L-2.2,-2.6 a2.6,2.6 0 0 0 0,5.2 L0.6,2.6Z" fill="#2f77c4"/></g>
<g transform="translate(128.4,417.2) rotate(55)"><rect x="-4.8" y="-2.6" width="9.6" height="5.2" rx="2.6" fill="#f7f4ea"/><path d="M0.6,-2.6 L-2.2,-2.6 a2.6,2.6 0 0 0 0,5.2 L0.6,2.6Z" fill="#2f77c4"/></g>
<g transform="translate(111.9,428.5) rotate(55)"><rect x="-4.8" y="-2.6" width="9.6" height="5.2" rx="2.6" fill="#f7f4ea"/><path d="M0.6,-2.6 L-2.2,-2.6 a2.6,2.6 0 0 0 0,5.2 L0.6,2.6Z" fill="#2f77c4"/></g>
<g transform="translate(129.1,432.7) rotate(120)"><rect x="-4.8" y="-2.6" width="9.6" height="5.2" rx="2.6" fill="#f7f4ea"/><path d="M0.6,-2.6 L-2.2,-2.6 a2.6,2.6 0 0 0 0,5.2 L0.6,2.6Z" fill="#e62a2a"/></g>
<g transform="translate(139.0,431.0) rotate(55)"><rect x="-4.8" y="-2.6" width="9.6" height="5.2" rx="2.6" fill="#f7f4ea"/><path d="M0.6,-2.6 L-2.2,-2.6 a2.6,2.6 0 0 0 0,5.2 L0.6,2.6Z" fill="#e62a2a"/></g>
<g transform="translate(137.5,441.9) rotate(55)"><rect x="-4.8" y="-2.6" width="9.6" height="5.2" rx="2.6" fill="#f7f4ea"/><path d="M0.6,-2.6 L-2.2,-2.6 a2.6,2.6 0 0 0 0,5.2 L0.6,2.6Z" fill="#e62a2a"/></g>
</g>
</g>
<ellipse cx="344.75" cy="317.75" rx="130.95" ry="129.55" fill="#000"/>
<clipPath id="cIn0"><ellipse cx="344.9" cy="317.2" rx="126.0" ry="124.3" /></clipPath>
<clipPath id="cIn1"><ellipse cx="344.9" cy="317.2" rx="126.0" ry="124.3" /></clipPath>
<clipPath id="cIn2"><ellipse cx="345.8" cy="316.1" rx="126.0" ry="124.3" /></clipPath>
<clipPath id="cIn3"><ellipse cx="344.9" cy="317.2" rx="126.0" ry="124.3" /></clipPath>
<clipPath id="cIn4"><ellipse cx="344.9" cy="317.2" rx="126.0" ry="124.3" /></clipPath>
<clipPath id="cIn5"><ellipse cx="344.9" cy="317.2" rx="126.0" ry="124.3" /></clipPath>
<path clip-path="url(#cIn0)" d="M345.0,322.0 L287.0,326.3 L142.0,326.3 L-251.2,254.2 L-236.7,174.9 L-211.7,98.2 L-176.7,25.6 L-132.2,-41.7 L-79.2,-102.4 L-18.4,-155.4 L240.7,138.3 L313.5,267.5Z" fill="#000000"/>
<path clip-path="url(#cIn1)" d="M345.0,322.0 L313.5,267.5 L240.7,138.3 L125.2,-236.3 L205.9,-261.6 L289.3,-275.4 L373.9,-277.3 L457.9,-267.3 L539.6,-245.6 L617.5,-212.6 L465.4,150.6 L385.5,268.8Z" fill="#fae8f0"/>
<path clip-path="url(#cIn2)" d="M345.0,322.0 L385.5,268.8 L465.4,150.6 L746.9,-123.6 L797.8,-71.6 L842.2,-13.9 L879.2,48.8 L908.3,115.5 L929.2,185.2 L941.5,256.9 L549.0,324.6 L408.0,324.6Z" fill="#f8fae8"/>
<path clip-path="url(#cIn3)" d="M345.0,322.0 L408.0,324.6 L549.0,324.6 L939.2,405.2 L924.0,479.4 L899.6,551.1 L866.3,619.1 L824.7,682.4 L775.5,740.0 L719.4,790.9 L451.2,496.2 L371.9,366.9Z" fill="#e6e2f6"/>
<path clip-path="url(#cIn4)" d="M345.0,322.0 L371.9,366.9 L451.2,496.2 L582.9,872.8 L503.9,900.6 L421.7,917.1 L338.1,922.0 L254.6,915.2 L172.9,896.8 L94.5,867.2 L234.3,494.5 L320.1,366.0Z" fill="#e6f0dc"/>
<path clip-path="url(#cIn5)" d="M345.0,322.0 L320.1,366.0 L234.3,494.5 L-38.2,783.7 L-91.7,733.4 L-138.7,677.0 L-178.4,615.3 L-210.3,549.2 L-233.9,479.7 L-248.8,407.8 L142.0,326.3 L287.0,326.3Z" fill="#e0f0fb"/>
<g clip-path="url(#cMidIn)">
<line x1="313.5" y1="267.5" x2="275.1" y2="199.3" stroke="#000" stroke-width="3"/>
<line x1="385.5" y1="268.8" x2="426.2" y2="208.6" stroke="#000" stroke-width="5.2"/>
<line x1="408.0" y1="324.6" x2="479.0" y2="324.6" stroke="#000" stroke-width="3.2"/>
<line x1="371.9" y1="366.9" x2="414.6" y2="436.5" stroke="#000" stroke-width="4.8"/>
<line x1="320.1" y1="366.0" x2="273.1" y2="436.3" stroke="#000" stroke-width="4.4"/>
</g>
<ellipse cx="347.6" cy="315.5" rx="72.8" ry="66.0" fill="url(#gS)"/>
<ellipse cx="347.6" cy="315.5" rx="72.8" ry="66.0" fill="url(#gS2)"/>
<path id="pO" d="M51.10000000000002,318.4 A290.5,290.5 0 1 1 632.1,318.4 A290.5,290.5 0 1 1 51.10000000000002,318.4 A290.5,290.5 0 1 1 632.1,318.4" fill="none"/>
<path id="pI" d="M254.0,317.0 A92.0,92.0 0 1 1 438.0,317.0 A92.0,92.0 0 1 1 254.0,317.0 A92.0,92.0 0 1 1 438.0,317.0" fill="none"/>
<path id="po1" d="M61.72,312.27 A223.06,223.06 0 0 1 190.73,79.28" fill="none"/><text class="o" style="font-size:19.3px" text-anchor="middle" textLength="238.7" lengthAdjust="spacing"><textPath href="#po1" startOffset="50%" textLength="238.7" lengthAdjust="spacing">Monitoring antibodies Drugs</textPath></text>
<path id="po2" d="M186.06,75.07 A352.56,352.56 0 0 1 529.33,87.43" fill="none"/><text class="o" style="font-size:20.0px" text-anchor="middle" textLength="284.9" lengthAdjust="spacing"><textPath href="#po2" startOffset="50%" textLength="284.9" lengthAdjust="spacing">Monitoring Cardiovascular Drugs</textPath></text>
<path id="po3" d="M494.50,87.72 A231.75,231.75 0 0 1 628.68,329.50" fill="none"/><text class="o" style="font-size:19.8px" text-anchor="middle" textLength="247.8" lengthAdjust="spacing"><textPath href="#po3" startOffset="50%" textLength="247.8" lengthAdjust="spacing">Monitoring&#160; Anesthetic Drugs</textPath></text>
<path id="po4" d="M626.33,310.67 A242.80,242.80 0 0 1 469.25,571.82" fill="none"/><text class="o" style="font-size:19.7px" text-anchor="middle" textLength="278.6" lengthAdjust="spacing"><textPath href="#po4" startOffset="50%" textLength="278.6" lengthAdjust="spacing">Monitoring Chemotherapy Drugs</textPath></text>
<path id="po5" d="M487.34,571.44 A328.01,328.01 0 0 1 182.22,571.76" fill="none"/><text class="o" style="font-size:19.9px" text-anchor="middle" textLength="248.7" lengthAdjust="spacing"><textPath href="#po5" startOffset="50%" textLength="248.7" lengthAdjust="spacing">Monitoring&#160; Antibiotics Drugs</textPath></text>
<path id="po6" d="M161.39,533.73 A200.16,200.16 0 0 1 65.47,361.27" fill="none"/><text class="o" style="font-size:19.5px" text-anchor="middle" textLength="164.4" lengthAdjust="spacing"><textPath href="#po6" startOffset="50%" textLength="164.4" lengthAdjust="spacing">Monitoring proteins</textPath></text>
<path id="pi1" d="M284.81,243.35 A95,95 0 0 1 410.65,244.70" fill="none"/><text class="i" style="font-size:15.2px" text-anchor="middle" textLength="96" lengthAdjust="spacing"><textPath href="#pi1" startOffset="50%" textLength="96" lengthAdjust="spacing">Cardiovascular</textPath></text>
<path id="pi2" d="M398.14,248.16 A95,95 0 0 1 452.26,328.29" fill="none"/><text class="i" style="font-size:14.6px" text-anchor="middle" textLength="62.5" lengthAdjust="spacing"><textPath href="#pi2" startOffset="50%" textLength="62.5" lengthAdjust="spacing">Anesthetic</textPath></text>
<path id="pi3" d="M448.50,307.97 A103,103 0 0 1 387.27,413.13" fill="none"/><text class="i" style="font-size:15.2px" text-anchor="middle" textLength="88" lengthAdjust="spacing"><textPath href="#pi3" startOffset="50%" textLength="88" lengthAdjust="spacing">Chemotherapy</textPath></text>
<path id="pi4" d="M391.41,396.36 A96,96 0 0 1 289.57,399.92" fill="none"/><text class="i" style="font-size:16px" text-anchor="middle" textLength="67" lengthAdjust="spacing"><textPath href="#pi4" startOffset="50%" textLength="67" lengthAdjust="spacing">Antibiotics</textPath></text>
<path id="pi5" d="M289.52,390.58 A92,92 0 0 1 255.34,321.64" fill="none"/><text class="i" style="font-size:13.4px" text-anchor="middle" textLength="41" lengthAdjust="spacing"><textPath href="#pi5" startOffset="50%" textLength="41" lengthAdjust="spacing">proteins</textPath></text>
<text class="c" x="347.4" y="288">Surface-</text>
<text class="c" x="347.4" y="306">Enhanced</text>
<text class="c" x="347.4" y="324.2">Raman</text>
<text class="c" x="347.4" y="342.2">Spectroscopy</text>
</svg></body></html>
